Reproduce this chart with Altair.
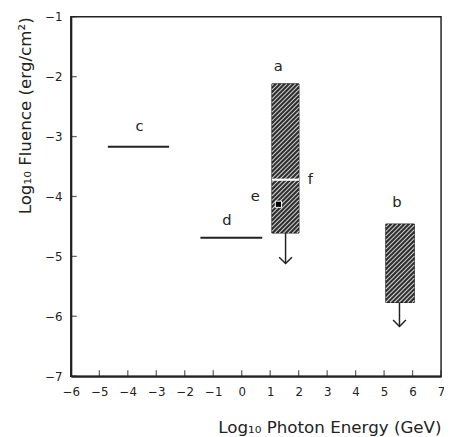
import altair as alt
import numpy as np
import pandas as pd

# ---- data ----
rect_names = ["a", "b"]
rect_x1 = [1.06, 5.06]
rect_x2 = [2.01, 6.06]
rect_y1 = [-4.61, -5.77]
rect_y2 = [-2.12, -4.46]
arrow_x = [1.54, 5.54]
arrow_tip = [-5.12, -6.17]

hline_names = ["c", "d"]
hline_x1 = [-4.70, -1.45]
hline_x2 = [-2.55, 0.72]
hline_y = [-3.17, -4.69]

f_x1, f_x2, f_y = 1.06, 2.01, -3.72
e_x, e_y = 1.29, -4.13

label_text = ["a", "b", "c", "d", "e", "f"]
label_x = [1.28, 5.45, -3.59, -0.52, 0.48, 2.41]
label_y = [-1.83, -4.10, -2.83, -4.39, -4.00, -3.71]

x_ticks = list(range(-6, 8))
y_ticks = list(range(-7, 0))

W, H = 377, 366
XD, YD = [-6, 7], [-7, -1]
INK = "#222222"

rects = pd.DataFrame({"name": rect_names, "x1": rect_x1, "x2": rect_x2,
                      "y1": rect_y1, "y2": rect_y2})
arrows = pd.DataFrame({"x": arrow_x, "y1": rect_y1, "tip": arrow_tip})
hlines = pd.DataFrame({"name": hline_names, "x1": hline_x1, "x2": hline_x2, "y": hline_y})
fline = pd.DataFrame({"x1": [f_x1], "x2": [f_x2], "y": [f_y]})
epoint = pd.DataFrame({"x": [e_x], "y": [e_y]})
labels = pd.DataFrame({"t": label_text, "x": label_x, "y": label_y})

# hatch lines derived from the rectangle bounds
sx = W / (XD[1] - XD[0])
sy = H / (YD[1] - YD[0])
hatch = []
for x0, x1, y0, y1 in zip(rect_x1, rect_x2, rect_y1, rect_y2):
    X0, X1, Y0, Y1 = x0 * sx, x1 * sx, y0 * sy, y1 * sy
    step = 4.5
    c = Y0 - X1 + step / 2
    while c < Y1 - X0:
        xa = max(X0, Y0 - c)
        xb = min(X1, Y1 - c)
        if xb > xa:
            hatch.append({"x": xa / sx, "y": (xa + c) / sy,
                          "x2": xb / sx, "y2": (xb + c) / sy})
        c += step
hatch = pd.DataFrame(hatch)

xs = alt.Scale(domain=XD, nice=False, zero=False)
ys = alt.Scale(domain=YD, nice=False, zero=False)

AX = alt.Axis(values=x_ticks, title="Log₁₀ Photon Energy (GeV)",
              format="d", tickSize=0, labelPadding=11, labelOverlap=False,
              labelFlush=False, titleAnchor="end", titlePadding=22, grid=False)
AY = alt.Axis(values=y_ticks, title="Log₁₀ Fluence (erg/cm²)",
              format="d", tickSize=0, labelPadding=9, labelOverlap=False,
              labelFlush=False, titleAnchor="end", titlePadding=10, grid=False)


def X(f):
    return alt.X(f, scale=xs, axis=AX)


def Y(f):
    return alt.Y(f, scale=ys, axis=AY)


rect_layer = alt.Chart(rects).mark_rect(fill="#2e2e2e", stroke=INK, strokeWidth=1).encode(
    x=X("x1:Q"), x2="x2:Q", y=Y("y1:Q"), y2="y2:Q")

hatch_layer = alt.Chart(hatch).mark_rule(color="white", strokeWidth=1.1, opacity=0.75).encode(
    x=X("x:Q"), y=Y("y:Q"), x2="x2:Q", y2="y2:Q")

f_layer = alt.Chart(fline).mark_rule(color="white", strokeWidth=2.2).encode(
    x=X("x1:Q"), x2="x2:Q", y=Y("y:Q"))

stem_layer = alt.Chart(arrows).mark_rule(color=INK, strokeWidth=1.5).encode(
    x=X("x:Q"), y=Y("y1:Q"), y2="tip:Q")

head_layer = alt.Chart(arrows).mark_point(
    shape="M -1 -1 L 0 0 L 1 -1", filled=False, color=INK, strokeWidth=1.5, size=170,
    opacity=1).encode(x=X("x:Q"), y=Y("tip:Q"))

hline_layer = alt.Chart(hlines).mark_rule(color=INK, strokeWidth=2).encode(
    x=X("x1:Q"), x2="x2:Q", y=Y("y:Q"))

e_layer = alt.Chart(epoint).mark_square(color="black", size=40, opacity=1,
                                        stroke="white", strokeWidth=1).encode(
    x=X("x:Q"), y=Y("y:Q"))

label_layer = alt.Chart(labels).mark_text(font="DejaVu Sans", fontSize=15, color=INK,
                                          align="center", baseline="middle").encode(
    x=X("x:Q"), y=Y("y:Q"), text="t:N")

xt = pd.DataFrame({"v": x_ticks})
yt = pd.DataFrame({"v": y_ticks})
xtick_layer = alt.Chart(xt).mark_tick(color=INK, size=6, thickness=1.3).encode(
    x=X("v:Q"), y=alt.value(H - 3))
ytick_layer = alt.Chart(yt).mark_tick(color=INK, size=6, thickness=1.3).encode(
    y=Y("v:Q"), x=alt.value(3))

chart = alt.layer(
    rect_layer, hatch_layer, f_layer, stem_layer, head_layer, hline_layer,
    e_layer, label_layer, xtick_layer, ytick_layer
).properties(
    width=W, height=H,
    autosize=alt.AutoSizeParams(type="none"),
    padding={"left": 64, "top": 5, "right": 3, "bottom": 58},
    background="white",
).configure_view(
    stroke=INK, strokeWidth=1.5
).configure_axis(
    domainColor=INK, domainWidth=2,
    labelFont="DejaVu Sans", labelFontSize=12, labelColor=INK,
    titleFont="DejaVu Sans", titleFontSize=17, titleColor=INK, titleFontWeight="normal",
)

chart.save("out.html", embed_options={"renderer": "svg", "actions": False})
